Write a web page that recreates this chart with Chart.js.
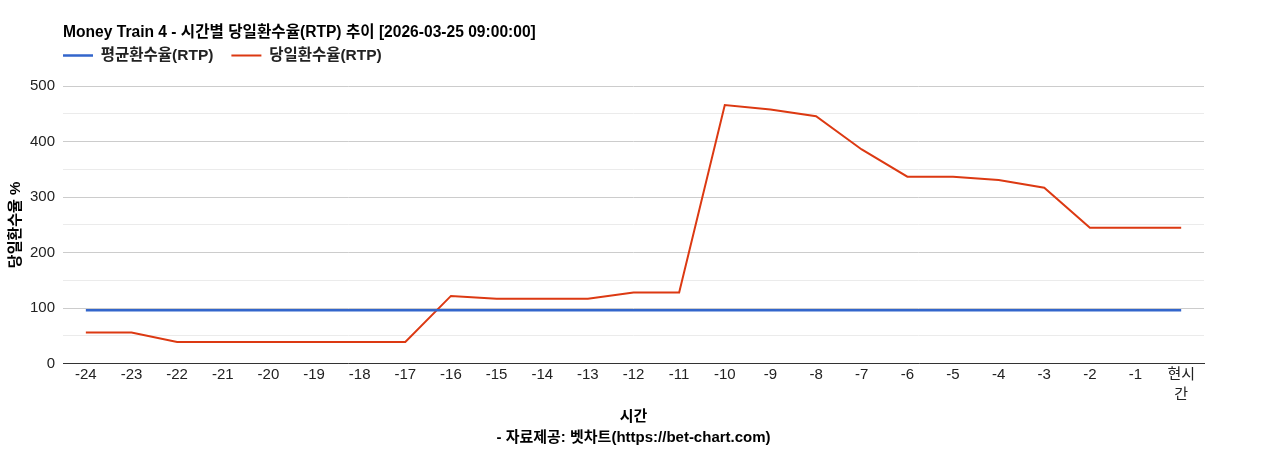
<!DOCTYPE html>
<html lang="ko">
  <head>
    <meta charset="UTF-8" />
    <title>Money Train 4 RTP</title>
    <script src="https://cdn.jsdelivr.net/npm/chart.js"></script>
    <style>
      html, body { margin: 0; padding: 0; background: #fff; }
      .wrap { width: 1268px; height: 450px; }
    </style>
  </head>
  <body>
    <div class="wrap"><canvas id="myChart"></canvas></div>
  </body>
  <script>
    const hourLabels = ["-24", "-23", "-22", "-21", "-20", "-19", "-18", "-17", "-16", "-15", "-14", "-13",
      "-12", "-11", "-10", "-9", "-8", "-7", "-6", "-5", "-4", "-3", "-2", "-1", ["현시", "간"]];
    const avgRtp = [96, 96, 96, 96, 96, 96, 96, 96, 96, 96, 96, 96, 96, 96, 96, 96, 96, 96, 96, 96, 96, 96, 96, 96, 96];
    const dayRtp = [56, 56, 39, 39, 39, 39, 39, 39, 122, 117, 117, 117, 128, 128, 466, 458, 446, 386, 337, 337, 331, 317, 245, 245, 245];
    const yTicks = [0, 100, 200, 300, 400, 500];

    const FONT = "'Liberation Sans', 'Noto Sans CJK KR', sans-serif";
    const LEGEND_PAD = 18;
    const ctx = document.getElementById("myChart");

    // 범례 아래 여백 + 범례를 플롯 왼쪽 끝에 맞춤
    const legendTweak = {
      id: "legendTweak",
      beforeInit(chart) {
        const fit = chart.legend.fit;
        chart.legend.fit = function () {
          fit.call(this);
          this.height += 13;
        };
      },
      afterLayout(chart) {
        chart.legend.left -= LEGEND_PAD;
        chart.legend.right -= LEGEND_PAD;
      },
    };

    new Chart(ctx, {
      type: "line",
      data: {
        labels: hourLabels,
        datasets: [
          { label: "평균환수율(RTP)", data: avgRtp, borderColor: "#3366cc", backgroundColor: "#3366cc", borderWidth: 2.5 },
          { label: "당일환수율(RTP)", data: dayRtp, borderColor: "#dc3912", backgroundColor: "#dc3912", borderWidth: 2 },
        ],
      },
      options: {
        responsive: true,
        maintainAspectRatio: false,
        animation: false,
        elements: { point: { radius: 0 }, line: { tension: 0 } },
        layout: { padding: { top: 13, right: 64, left: 7, bottom: 1 } },
        plugins: {
          tooltip: { enabled: false },
          title: {
            display: true,
            fullSize: false,
            align: "start",
            text: "Money Train 4 - 시간별 당일환수율(RTP) 추이 [2026-03-25 09:00:00]",
            color: "#000",
            font: { family: FONT, size: 15.6, weight: "bold" },
            padding: { top: 10, bottom: -12 },
          },
          legend: {
            fullSize: false,
            align: "start",
            labels: {
              boxWidth: 30,
              boxHeight: 0,
              padding: LEGEND_PAD,
              color: "#222",
              font: { family: FONT, size: 15.5, weight: "bold" },
            },
          },
        },
        scales: {
          x: {
            offset: true,
            grid: { display: false, drawTicks: false },
            border: { display: true, color: "#333" },
            ticks: {
              color: "#222",
              padding: 1,
              maxRotation: 0,
              autoSkip: false,
              font: { family: FONT, size: 15, lineHeight: 1.33 },
            },
            title: {
              display: true,
              text: ["시간", "- 자료제공: 벳차트(https://bet-chart.com)"],
              color: "#000",
              font: { family: FONT, size: 15, weight: "bold", lineHeight: 1.45 },
              padding: { top: 0, bottom: 0 },
            },
          },
          y: {
            min: 0,
            max: 500,
            border: { display: false },
            grid: {
              drawTicks: false,
              color: (c) => (yTicks.includes(c.tick.value) ? "#cccccc" : "#ebebeb"),
            },
            ticks: {
              stepSize: 50,
              padding: 8,
              color: "#222",
              font: { family: FONT, size: 15 },
              callback: (v) => (yTicks.includes(v) ? v : ""),
            },
            title: {
              display: true,
              text: "당일환수율 %",
              color: "#000",
              font: { family: FONT, size: 15, weight: "bold" },
              padding: { top: 0, bottom: -3 },
            },
          },
        },
      },
      plugins: [legendTweak],
    });
  </script>
</html>
